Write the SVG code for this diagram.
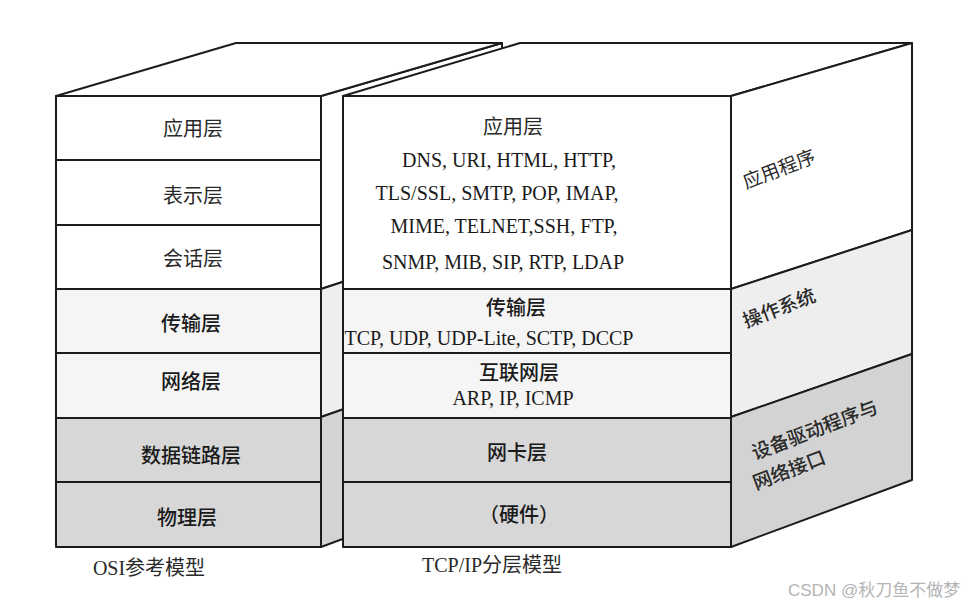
<svg xmlns="http://www.w3.org/2000/svg" width="974" height="607" viewBox="0 0 974 607">
<style>
.ln{stroke:#1c1c1c;stroke-width:2;stroke-linejoin:round}
.w{fill:#ffffff}
.l{fill:#f5f5f5}
.g{fill:#d7d7d7}
.sl{fill:#eeeeee}
.sg{fill:#d3d3d3}
.cn{font-family:"Liberation Serif","Noto Sans CJK SC",serif;font-size:20px;fill:#2a2a2a;text-anchor:middle}
.cb{font-weight:500;fill:#1a1a1a}
.lt{font-family:"Liberation Serif","Noto Sans CJK SC",serif;font-size:20px;fill:#1a1a1a;text-anchor:middle}
.rf{font-family:"Liberation Serif","Noto Sans CJK SC",serif;font-size:19px;fill:#2a2a2a;text-anchor:start}
.wm{font-family:"Liberation Sans","Noto Sans CJK SC",sans-serif;font-size:17px;fill:#b4b4b4}
</style>
<rect width="974" height="607" fill="#ffffff"/>

<g id="osi-model">
  <!-- side face (mostly hidden) -->
  <polygon class="w ln" points="321,96 502,43 502,230 321,289"/>
  <polygon class="sl ln" points="321,289 502,230 502,354 321,417"/>
  <polygon class="sg ln" points="321,417 502,354 502,480 321,547"/>
  <!-- top face -->
  <polygon class="w ln" points="56,96 236,43 502,43 321,96"/>
  <g id="osi-app"><rect class="w ln" x="56" y="96" width="265" height="64"/><text class="cn" x="193" y="136">应用层</text></g>
  <g id="osi-pres"><rect class="w ln" x="56" y="160" width="265" height="65"/><text class="cn" x="193" y="203">表示层</text></g>
  <g id="osi-sess"><rect class="w ln" x="56" y="225" width="265" height="64"/><text class="cn" x="193" y="266">会话层</text></g>
  <g id="osi-trans"><rect class="l ln" x="56" y="289" width="265" height="64"/><text class="cn cb" x="191" y="331">传输层</text></g>
  <g id="osi-net"><rect class="l ln" x="56" y="353" width="265" height="65"/><text class="cn cb" x="191" y="389">网络层</text></g>
  <g id="osi-link"><rect class="g ln" x="56" y="418" width="265" height="64"/><text class="cn cb" x="191" y="463">数据链路层</text></g>
  <g id="osi-phys"><rect class="g ln" x="56" y="482" width="265" height="65"/><text class="cn cb" x="187" y="525">物理层</text></g>
  <text id="osi-title" class="cn" x="149" y="575">OSI参考模型</text>
</g>

<g id="tcpip-model">
  <!-- top face -->
  <polygon class="w ln" points="343,96 520,43 912,43 731,96"/>
  <!-- right face -->
  <g id="side-app"><polygon class="w ln" points="731,96 912,43 912,230 731,289"/><text class="rf" transform="translate(746,189) rotate(-21)">应用程序</text></g>
  <g id="side-os"><polygon class="sl ln" points="731,289 912,230 912,354 731,417"/><text class="rf cb" transform="translate(746,328) rotate(-21)">操作系统</text></g>
  <g id="side-drv"><polygon class="sg ln" points="731,417 912,354 912,480 731,547"/>
    <text class="rf cb" transform="translate(755,460) rotate(-21)">设备驱动程序与</text>
    <text class="rf cb" transform="translate(756,490) rotate(-21)">网络接口</text></g>
  <!-- front face -->
  <g id="tcp-app"><rect class="w ln" x="343" y="96" width="388" height="193"/>
    <text class="cn" x="513" y="134">应用层</text>
    <text class="lt" x="509" y="167">DNS, URI, HTML, HTTP,</text>
    <text class="lt" x="497" y="200">TLS/SSL, SMTP, POP, IMAP,</text>
    <text class="lt" x="504" y="233">MIME, TELNET,SSH, FTP,</text>
    <text class="lt" x="503" y="269">SNMP, MIB, SIP, RTP, LDAP</text></g>
  <g id="tcp-trans"><rect class="l ln" x="343" y="289" width="388" height="64"/>
    <text class="cn cb" x="516" y="315">传输层</text>
    <text class="lt" x="489" y="345">TCP, UDP, UDP-Lite, SCTP, DCCP</text></g>
  <g id="tcp-inet"><rect class="l ln" x="343" y="353" width="388" height="65"/>
    <text class="cn cb" x="519" y="380">互联网层</text>
    <text class="lt" x="513" y="405">ARP, IP, ICMP</text></g>
  <g id="tcp-nic"><rect class="g ln" x="343" y="418" width="388" height="64"/><text class="cn cb" x="517" y="460">网卡层</text></g>
  <g id="tcp-hw"><rect class="g ln" x="343" y="482" width="388" height="65"/><text class="cn cb" x="519" y="522">（硬件）</text></g>
  <text id="tcp-title" class="cn" x="492" y="572">TCP/IP分层模型</text>
</g>

<g id="connectors"></g>

<text class="wm" x="788" y="596">CSDN @秋刀鱼不做梦</text>
</svg>
